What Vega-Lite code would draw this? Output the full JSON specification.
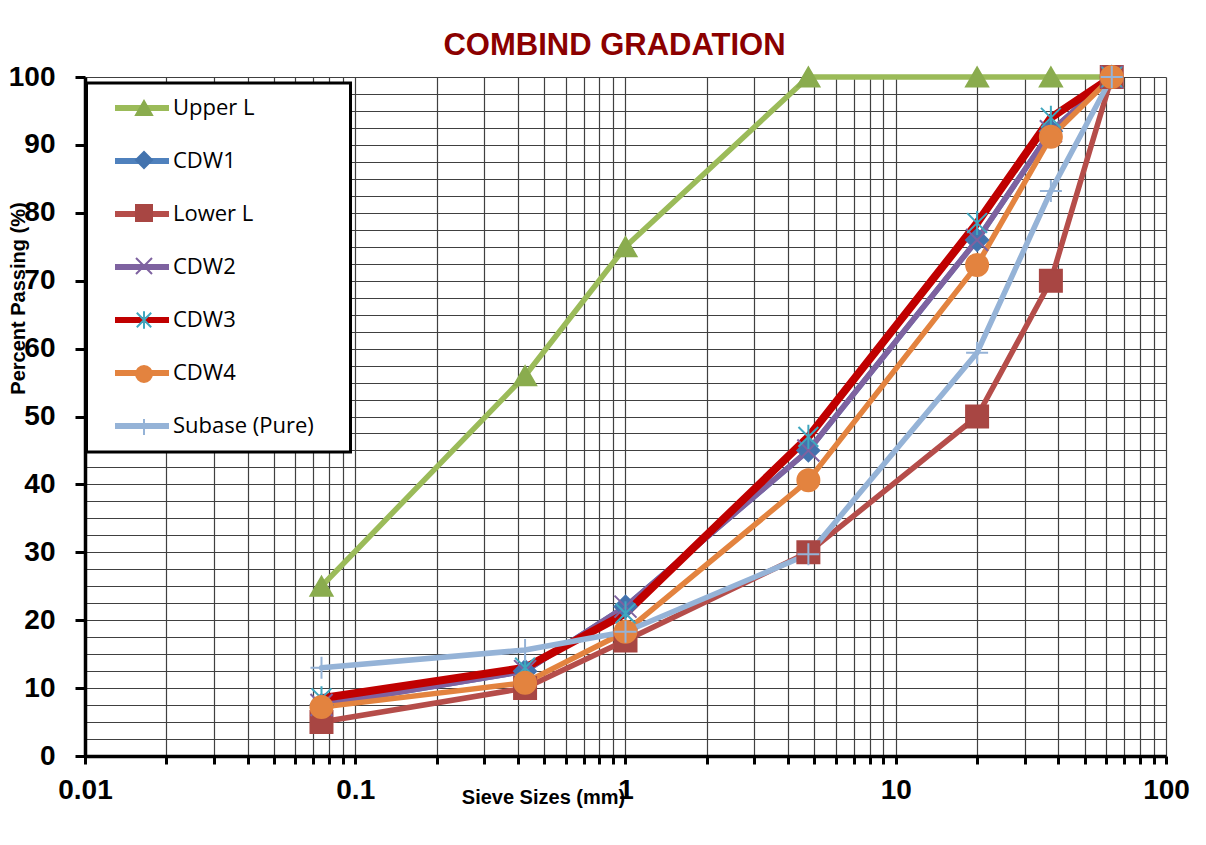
{
  "$schema": "https://vega.github.io/schema/vega-lite/v6.json",
  "width": 1081,
  "height": 679,
  "autosize": {"type": "none"},
  "padding": {"left": 85, "top": 77, "right": 40, "bottom": 89},
  "background": "white",
  "title": {
    "text": "COMBIND GRADATION",
    "font": "Liberation Sans",
    "fontSize": 31,
    "fontWeight": "bold",
    "color": "#8B0000",
    "anchor": "middle",
    "dx": -11,
    "offset": -1
  },
  "data": {
    "values": [
      {"series": "Upper L", "size": 0.075, "pct": 25},
      {"series": "Upper L", "size": 0.425, "pct": 56},
      {"series": "Upper L", "size": 1, "pct": 75},
      {"series": "Upper L", "size": 4.75, "pct": 100},
      {"series": "Upper L", "size": 20, "pct": 100},
      {"series": "Upper L", "size": 37.5, "pct": 100},
      {"series": "Upper L", "size": 63, "pct": 100},
      {"series": "CDW1", "size": 0.075, "pct": 7.5},
      {"series": "CDW1", "size": 0.425, "pct": 12.5},
      {"series": "CDW1", "size": 1, "pct": 22},
      {"series": "CDW1", "size": 4.75, "pct": 45},
      {"series": "CDW1", "size": 20, "pct": 76},
      {"series": "CDW1", "size": 37.5, "pct": 92},
      {"series": "CDW1", "size": 63, "pct": 100},
      {"series": "Lower L", "size": 0.075, "pct": 5},
      {"series": "Lower L", "size": 0.425, "pct": 10},
      {"series": "Lower L", "size": 1, "pct": 17},
      {"series": "Lower L", "size": 4.75, "pct": 30},
      {"series": "Lower L", "size": 20, "pct": 50},
      {"series": "Lower L", "size": 37.5, "pct": 70},
      {"series": "Lower L", "size": 63, "pct": 100},
      {"series": "CDW2", "size": 0.075, "pct": 7.5},
      {"series": "CDW2", "size": 0.425, "pct": 12.5},
      {"series": "CDW2", "size": 1, "pct": 22},
      {"series": "CDW2", "size": 4.75, "pct": 45},
      {"series": "CDW2", "size": 20, "pct": 76},
      {"series": "CDW2", "size": 37.5, "pct": 92},
      {"series": "CDW2", "size": 63, "pct": 100},
      {"series": "CDW3", "size": 0.075, "pct": 8.5},
      {"series": "CDW3", "size": 0.425, "pct": 13},
      {"series": "CDW3", "size": 1, "pct": 21},
      {"series": "CDW3", "size": 4.75, "pct": 47},
      {"series": "CDW3", "size": 20, "pct": 78.5},
      {"series": "CDW3", "size": 37.5, "pct": 94},
      {"series": "CDW3", "size": 63, "pct": 100},
      {"series": "CDW4", "size": 0.075, "pct": 7.2},
      {"series": "CDW4", "size": 0.425, "pct": 10.8},
      {"series": "CDW4", "size": 1, "pct": 18.3},
      {"series": "CDW4", "size": 4.75, "pct": 40.6},
      {"series": "CDW4", "size": 20, "pct": 72.3},
      {"series": "CDW4", "size": 37.5, "pct": 91.2},
      {"series": "CDW4", "size": 63, "pct": 100},
      {"series": "Subase (Pure)", "size": 0.075, "pct": 13},
      {"series": "Subase (Pure)", "size": 0.425, "pct": 15.6},
      {"series": "Subase (Pure)", "size": 1, "pct": 18.3},
      {"series": "Subase (Pure)", "size": 4.75, "pct": 29.7},
      {"series": "Subase (Pure)", "size": 20, "pct": 59.4},
      {"series": "Subase (Pure)", "size": 37.5, "pct": 83.2},
      {"series": "Subase (Pure)", "size": 63, "pct": 100}
    ]
  },
  "encoding": {
    "x": {
      "field": "size",
      "type": "quantitative",
      "scale": {"type": "log", "domain": [0.01, 100]},
      "axis": {
        "values": [0.01, 0.02, 0.03, 0.04, 0.05, 0.06, 0.07, 0.08, 0.09, 0.1, 0.2, 0.3, 0.4, 0.5, 0.6, 0.7, 0.8, 0.9, 1, 2, 3, 4, 5, 6, 7, 8, 9, 10, 20, 30, 40, 50, 60, 70, 80, 90, 100],
        "format": "~g",
        "labelExpr": "indexof(['0.01', '0.1', '1', '10', '100'], datum.label) >= 0 ? datum.label : ''",
        "labelFlush": false,
        "labelOverlap": false,
        "labelFont": "Liberation Sans",
        "labelFontSize": 28,
        "labelFontWeight": "bold",
        "labelColor": "black",
        "labelPadding": 12,
        "tickSize": 8,
        "tickWidth": 3,
        "tickColor": "black",
        "domainColor": "black",
        "domainWidth": 3.5,
        "grid": true,
        "gridColor": "#404040",
        "gridWidth": 1.2,
        "title": "Sieve Sizes (mm)",
        "titleFont": "Liberation Sans",
        "titleFontSize": 20,
        "titleFontWeight": "bold",
        "titleColor": "black",
        "titleX": 458,
        "titleY": 31,
        "titleAlign": "center",
        "titleBaseline": "top"
      }
    },
    "y": {
      "field": "pct",
      "type": "quantitative",
      "scale": {"domain": [0, 100]},
      "axis": {
        "values": [0, 2.5, 5, 7.5, 10, 12.5, 15, 17.5, 20, 22.5, 25, 27.5, 30, 32.5, 35, 37.5, 40, 42.5, 45, 47.5, 50, 52.5, 55, 57.5, 60, 62.5, 65, 67.5, 70, 72.5, 75, 77.5, 80, 82.5, 85, 87.5, 90, 92.5, 95, 97.5, 100],
        "labelExpr": "datum.value % 10 === 0 ? datum.label : ''",
        "labelOverlap": false,
        "labelFont": "Liberation Sans",
        "labelFontSize": 28,
        "labelFontWeight": "bold",
        "labelColor": "black",
        "labelPadding": 20,
        "tickSize": 10,
        "tickWidth": 3,
        "tickColor": "black",
        "tickOpacity": {"condition": {"test": "datum.value % 10 === 0", "value": 1}, "value": 0},
        "domainColor": "black",
        "domainWidth": 3.5,
        "grid": true,
        "gridColor": "#404040",
        "gridWidth": 1.2,
        "title": "Percent Passing (%)",
        "titleFont": "Liberation Sans",
        "titleFontSize": 20,
        "titleFontWeight": "bold",
        "titleColor": "black",
        "titleAngle": -90,
        "titleX": -67,
        "titleY": 221,
        "titleAlign": "center",
        "titleBaseline": "middle"
      }
    }
  },
  "layer": [
    {
      "mark": {"type": "line", "strokeJoin": "round", "strokeCap": "round"},
      "encoding": {
        "color": {
          "field": "series",
          "type": "nominal",
          "sort": ["Upper L", "CDW1", "Lower L", "CDW2", "CDW3", "CDW4", "Subase (Pure)"],
          "scale": {"range": ["#9BBB59", "#4F81BD", "#B54D4A", "#7E62A0", "#C00000", "#E3833F", "#95B3D7"]},
          "legend": {
            "title": null,
            "orient": "none",
            "legendX": 1.5,
            "legendY": 6,
            "padding": 14,
            "fillColor": "white",
            "strokeColor": "black",
            "symbolType": "M-6,0H6M40.4,0",
            "symbolSize": 81,
            "symbolStrokeWidth": 6,
            "symbolOffset": 30.5,
            "labelOffset": 20,
            "labelFont": "Open Sans",
            "labelFontSize": 22,
            "labelColor": "black",
            "rowPadding": 29
          }
        },
        "strokeWidth": {"condition": {"test": "datum.series === 'CDW3'", "value": 8}, "value": 5.5}
      }
    },
    {
      "mark": {"type": "point", "filled": true, "size": 484, "strokeWidth": 2, "opacity": 1},
      "encoding": {
        "shape": {
          "field": "series",
          "type": "nominal",
          "scale": {
            "domain": ["Upper L", "CDW1", "Lower L", "CDW2", "CDW3", "CDW4", "Subase (Pure)"],
            "range": ["triangle-up", "diamond", "square", "M-1,-1L1,1M-1,1L1,-1", "M-0.9,-0.9L0.9,0.9M-0.9,0.9L0.9,-0.9M0,-1.1V1.1", "circle", "M-1,0H1M0,-1V1"]
          },
          "legend": {
            "title": null,
            "orient": "none",
            "legendX": 34,
            "legendY": 6,
            "padding": 14,
            "symbolSize": 256,
            "symbolStrokeWidth": 2,
            "labelFont": "Open Sans",
            "labelFontSize": 22,
            "labelExpr": "''",
            "rowPadding": 29
          }
        },
        "fill": {
          "field": "series",
          "type": "nominal",
          "scale": {
            "domain": ["Upper L", "CDW1", "Lower L", "CDW2", "CDW3", "CDW4", "Subase (Pure)"],
            "range": ["#8AAC4E", "#4373AE", "#A84643", "#7E62A0", "#3FA7BF", "#E3833F", "#95B3D7"]
          },
          "legend": {
            "title": null,
            "orient": "none",
            "legendX": 34,
            "legendY": 6,
            "padding": 14,
            "symbolSize": 256,
            "symbolStrokeWidth": 2,
            "labelFont": "Open Sans",
            "labelFontSize": 22,
            "labelExpr": "''",
            "rowPadding": 29
          }
        },
        "stroke": {
          "field": "series",
          "type": "nominal",
          "scale": {
            "domain": ["Upper L", "CDW1", "Lower L", "CDW2", "CDW3", "CDW4", "Subase (Pure)"],
            "range": ["#8AAC4E", "#4373AE", "#A84643", "#7E62A0", "#3FA7BF", "#E3833F", "#95B3D7"]
          },
          "legend": {
            "title": null,
            "orient": "none",
            "legendX": 34,
            "legendY": 6,
            "padding": 14,
            "symbolSize": 256,
            "symbolStrokeWidth": 2,
            "labelFont": "Open Sans",
            "labelFontSize": 22,
            "labelExpr": "''",
            "rowPadding": 29
          }
        }
      }
    }
  ],
  "config": {
    "view": {"stroke": null},
    "legend": {"strokeWidth": 3}
  }
}
